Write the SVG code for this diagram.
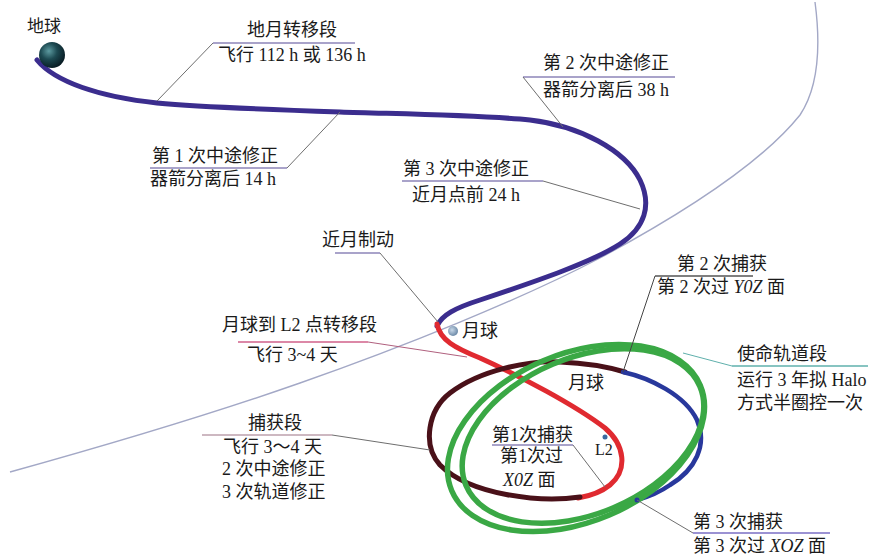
<svg xmlns="http://www.w3.org/2000/svg" width="875" height="558" viewBox="0 0 875 558">
  <style>
    text { font-family: "Liberation Serif", "Noto Sans CJK SC", serif; font-size: 18px; fill: #1a1a1a; }
    .it { font-style: italic; }
    .orbit { fill: none; stroke-linecap: round; stroke-linejoin: round; }
    .moonline { fill: none; stroke: #a3a8c6; stroke-width: 1.4; }
    .ul { stroke: #8d84b8; stroke-width: 1.6; fill: none; }
    .ptr { stroke: #6e6e6e; stroke-width: 1; fill: none; }
  </style>
  <defs>
    <radialGradient id="earthGrad" cx="0.38" cy="0.35" r="0.7">
      <stop offset="0" stop-color="#5c9aa0"/>
      <stop offset="0.45" stop-color="#1d4a52"/>
      <stop offset="1" stop-color="#071820"/>
    </radialGradient>
    <radialGradient id="moonGrad" cx="0.4" cy="0.4" r="0.7">
      <stop offset="0" stop-color="#c8d8e8"/>
      <stop offset="1" stop-color="#5f7e9e"/>
    </radialGradient>
  </defs>

  <!-- lunar orbit -->
  <path class="moonline" d="M10,472 C100,447 200,418 300,383 C400,348 520,300 600,258 C680,215 760,165 800,115 C820,85 820,40 815,2"/>

  <!-- trajectory segments -->
  <g id="trajectory">
    <path class="orbit" stroke="#3b2d8e" stroke-width="5" d="M37,60 C55,82 100,97 157,103 C200,107 280,110 340,112 C400,114 480,115 530,120 C580,126 625,150 640,180 C652,205 645,228 620,244 C592,262 540,280 480,300 C455,308 442,315 437,326"/>
    <path class="orbit" stroke="#e02a30" stroke-width="5" d="M437,324 C440,340 455,348 480,358 C520,376 575,405 605,428 C625,445 628,470 610,485 C600,493 590,496 578,498"/>
    <path class="orbit" stroke="#4a1119" stroke-width="5" d="M580,497 C540,503 470,495 440,465 C422,445 428,410 450,393 C480,370 530,360 560,362 C585,363 605,366 625,372"/>
    <path class="orbit" stroke="#28389c" stroke-width="4.5" d="M623,372 C650,378 685,395 697,420 C708,445 695,470 670,485 C660,492 648,497 637,500"/>
    <g fill="none" stroke="#3aa845" stroke-width="5.5">
      <ellipse cx="576" cy="438" rx="135" ry="84" transform="rotate(-23 576 438)"/>
      <ellipse cx="583" cy="436" rx="127" ry="78" transform="rotate(-23 583 436)"/>
    </g>
    <circle cx="637" cy="500" r="2.5" fill="#28389c"/>
  </g>

  <!-- bodies -->
  <g id="earth">
    <circle cx="52" cy="55" r="13" fill="url(#earthGrad)"/>
    <text x="27" y="32" style="font-size:17px">地球</text>
  </g>
  <g id="moon">
    <circle cx="453" cy="331" r="5" fill="url(#moonGrad)"/>
    <text x="462" y="337">月球</text>
  </g>
  <g id="moon-label-2">
    <text x="568" y="389">月球</text>
  </g>
  <g id="l2">
    <circle cx="605" cy="437" r="2.5" fill="#3a6aa0"/>
    <text x="595" y="455" style="font-size:16px">L2</text>
  </g>

  <!-- leader lines -->
  <g id="connectors">
    <path class="ul" d="M213,43 H355"/>
    <path class="ptr" d="M213,43 L157,101"/>
    <path class="ul" d="M150,168 H287"/>
    <path class="ptr" d="M287,168 L340,112"/>
    <path class="ul" d="M523,77 H675"/>
    <path class="ptr" d="M523,77 L563,127"/>
    <path class="ul" d="M402,181 H543"/>
    <path class="ptr" d="M543,181 L640,209"/>
    <path class="ul" d="M335,253 H380"/>
    <path class="ptr" d="M380,253 L438,322"/>
    <path class="ul" style="stroke:#d0608a" d="M238,342 H368"/>
    <path class="ptr" style="stroke:#b0607e" d="M368,342 L467,357"/>
    <path class="ul" style="stroke:#bca0ac" d="M202,435 H332"/>
    <path class="ptr" d="M332,435 L430,450"/>
    <path class="ul" d="M492,445 H573"/>
    <path class="ptr" d="M573,445 L605,487"/>
    <path class="ul" style="stroke:#555" d="M655,276 H753"/>
    <path class="ptr" style="stroke:#444" d="M655,276 L623,372"/>
    <path class="ul" style="stroke:#5fb0ac" d="M732,366 H868"/>
    <path class="ptr" style="stroke:#5fb0ac" d="M732,366 L683,353"/>
    <path class="ul" style="stroke:#7a6ec4" d="M693,533 H830"/>
    <path class="ptr" d="M693,533 L637,500"/>
  </g>

  <!-- labels -->
  <g id="transfer">
    <text x="247" y="36">地月转移段</text>
    <text x="218" y="61">飞行 112 h 或 136 h</text>
  </g>
  <g id="tcm1">
    <text x="152" y="162">第 1 次中途修正</text>
    <text x="150" y="185">器箭分离后 14 h</text>
  </g>
  <g id="tcm2">
    <text x="543" y="69">第 2 次中途修正</text>
    <text x="543" y="96">器箭分离后 38 h</text>
  </g>
  <g id="tcm3">
    <text x="403" y="175">第 3 次中途修正</text>
    <text x="412" y="201">近月点前 24 h</text>
  </g>
  <g id="braking">
    <text x="322" y="246">近月制动</text>
  </g>
  <g id="moon-to-l2">
    <text x="222" y="331">月球到 L2 点转移段</text>
    <text x="247" y="361">飞行 3~4 天</text>
  </g>
  <g id="capture">
    <text x="248" y="429">捕获段</text>
    <text x="223" y="453">飞行 3～4 天</text>
    <text x="222" y="475">2 次中途修正</text>
    <text x="222" y="498">3 次轨道修正</text>
  </g>
  <g id="capture1">
    <text x="492" y="441">第1次捕获</text>
    <text x="500" y="462">第1次过</text>
    <text x="503" y="486"><tspan class="it">X0Z</tspan> 面</text>
  </g>
  <g id="capture2">
    <text x="677" y="270">第 2 次捕获</text>
    <text x="657" y="293">第 2 次过 <tspan class="it">Y0Z</tspan> 面</text>
  </g>
  <g id="mission">
    <text x="737" y="360">使命轨道段</text>
    <text x="737" y="386">运行 3 年拟 Halo</text>
    <text x="737" y="409">方式半圈控一次</text>
  </g>
  <g id="capture3">
    <text x="693" y="528">第 3 次捕获</text>
    <text x="693" y="552">第 3 次过 <tspan class="it">XOZ</tspan> 面</text>
  </g>
</svg>
